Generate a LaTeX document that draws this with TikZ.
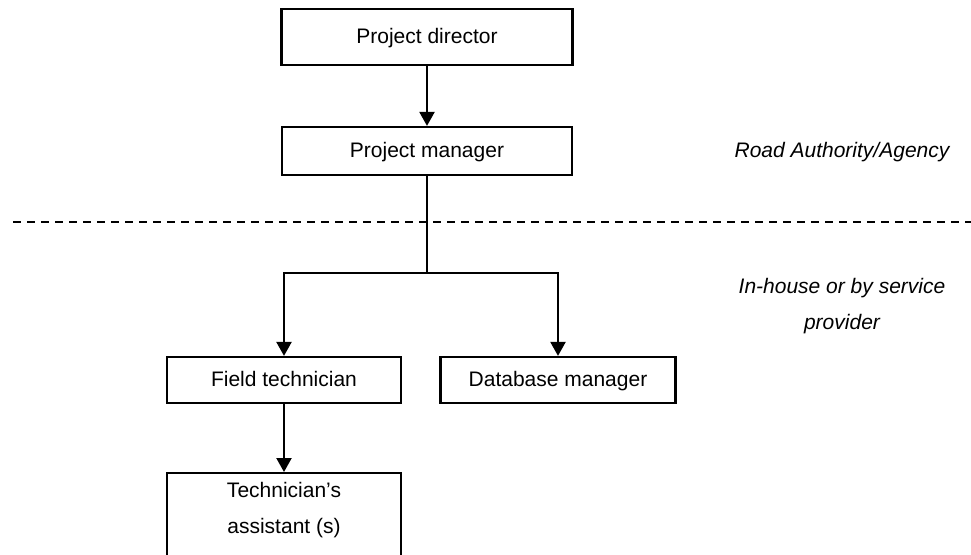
\documentclass[tikz,border=0pt]{standalone}
\usepackage{fontspec}
\setmainfont{Liberation Sans}
\usetikzlibrary{arrows.meta}
\begin{document}
\begin{tikzpicture}[x=0.5pt,y=-0.5pt,
  every node/.style={font=\fontsize{10.5pt}{18pt}\selectfont},
  box/.style={draw, line width=1.1pt, inner sep=0pt, text height=7.6pt, text depth=1.2pt},
  conn/.style={line width=1.1pt},
  arr/.style={conn, -{Triangle[length=7pt,width=7.5pt]}},
  sidenote/.style={align=center, font=\fontsize{10.5pt}{18pt}\selectfont\itshape},
  divider/.style={line width=1pt, dash pattern=on 4pt off 3pt}]
\useasboundingbox (0,0) rectangle (971,554);
\node[box, minimum width=291*0.5pt, minimum height=56*0.5pt] (pd) at (427,37) {Project director};
\node[box, minimum width=290*0.5pt, minimum height=48*0.5pt] (pm) at (427,151) {Project manager};
\node[box, minimum width=234*0.5pt, minimum height=46*0.5pt] (ft) at (284,380) {Field technician};
\node[box, minimum width=235*0.5pt, minimum height=46*0.5pt] (dm) at (558,380) {Database manager};
\node[draw, line width=1.1pt, anchor=north, minimum width=234*0.5pt, minimum height=160*0.5pt] (tabox) at (284,472) {};
\node[align=center] (ta) at (284,510) {Technician’s\\assistant (s)};
\node[sidenote] (ra) at (842,152) {Road Authority/Agency};
\node[sidenote] (ih) at (842,306) {In-house or by service\\provider};
\coordinate (dl) at (13,222);
\coordinate (dr) at (975,222);
\draw[divider] (dl) -- (dr);
\coordinate (junc) at (427,273);
\draw[arr] (pd.south) -- (pm.north);
\draw[conn] (pm.south) -- (junc);
\draw[arr] (junc) -| (ft.north);
\draw[arr] (junc) -| (dm.north);
\draw[arr] (ft.south) -- (tabox.north);
\end{tikzpicture}
\end{document}
